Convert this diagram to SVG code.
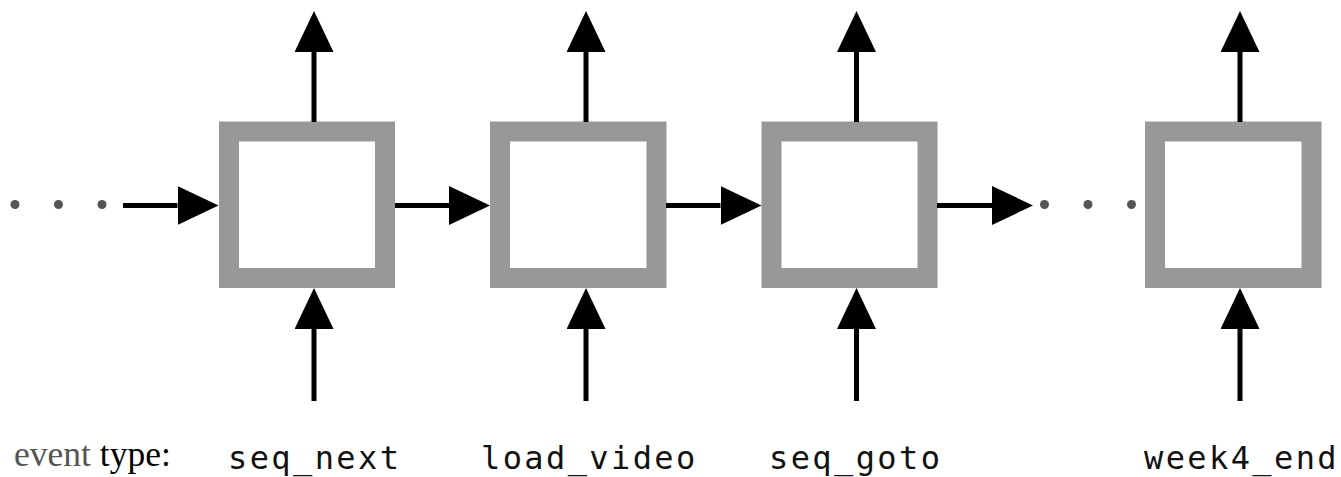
<svg xmlns="http://www.w3.org/2000/svg" width="1341" height="477" viewBox="0 0 1341 477">
  <style>
    .box { fill: #ffffff; stroke: #989898; stroke-width: 20; }
    .conn { stroke: #000000; stroke-width: 5; fill: none; marker-end: url(#head); }
    .dot { fill: #555555; }
    .lbl { font-family: "DejaVu Sans Mono", monospace; font-size: 32px; letter-spacing: 2.4px; fill: #111111; }
    .cap { font-family: "Liberation Serif", serif; font-size: 35.5px; }
  </style>
  <defs>
    <marker id="head" markerUnits="userSpaceOnUse" markerWidth="42" markerHeight="40" refX="0" refY="19.5" orient="auto" viewBox="0 0 42 40">
      <path d="M0,0 L41,19.5 L0,39 Z" fill="#000000"/>
    </marker>
  </defs>
  <rect width="1341" height="477" fill="#ffffff"/>

  <g id="dots-left">
    <circle class="dot" cx="15" cy="204.5" r="4.5"/>
    <circle class="dot" cx="58.5" cy="204.5" r="4.5"/>
    <circle class="dot" cx="102" cy="204.5" r="4.5"/>
  </g>
  <g id="dots-right">
    <circle class="dot" cx="1044.5" cy="204.5" r="4.5"/>
    <circle class="dot" cx="1088" cy="204.5" r="4.5"/>
    <circle class="dot" cx="1131.5" cy="204.5" r="4.5"/>
  </g>

  <g id="node1"><rect class="box" x="229" y="131.5" width="156" height="146.5"/></g>
  <g id="node2"><rect class="box" x="500" y="131.5" width="156.5" height="146.5"/></g>
  <g id="node3"><rect class="box" x="771.5" y="131.5" width="156" height="146.5"/></g>
  <g id="node4"><rect class="box" x="1155" y="131.5" width="156.5" height="146.5"/></g>

  <g id="connectors">
    <line class="conn" x1="123" y1="205.5" x2="177.5" y2="205.5"/>
    <line class="conn" x1="395" y1="205.5" x2="449" y2="205.5"/>
    <line class="conn" x1="666" y1="205.5" x2="720.5" y2="205.5"/>
    <line class="conn" x1="937" y1="205.5" x2="992" y2="205.5"/>

    <line class="conn" x1="314" y1="122" x2="314" y2="52"/>
    <line class="conn" x1="586" y1="122" x2="586" y2="52"/>
    <line class="conn" x1="856.5" y1="122" x2="856.5" y2="52"/>
    <line class="conn" x1="1240" y1="122" x2="1240" y2="52"/>

    <line class="conn" x1="314" y1="401" x2="314" y2="329"/>
    <line class="conn" x1="586" y1="401" x2="586" y2="329"/>
    <line class="conn" x1="856.5" y1="401" x2="856.5" y2="329"/>
    <line class="conn" x1="1240" y1="401" x2="1240" y2="329"/>
  </g>

  <g id="caption">
    <text class="cap" x="14" y="466"><tspan fill="#555555">event</tspan><tspan fill="#000000"> type:</tspan></text>
  </g>
  <g id="labels">
    <text class="lbl" x="228" y="469">seq_next</text>
    <text class="lbl" x="481" y="469">load_video</text>
    <text class="lbl" x="769" y="469">seq_goto</text>
    <text class="lbl" x="1144" y="469">week4_end</text>
  </g>
</svg>
